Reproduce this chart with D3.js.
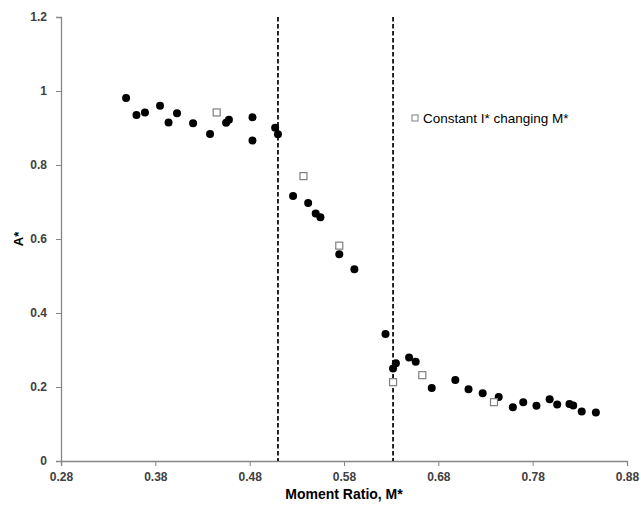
<!DOCTYPE html>
<html>
<head>
<meta charset="utf-8">
<script src="https://cdn.jsdelivr.net/npm/d3@7"></script>
<style>
  body { margin: 0; background: #fff; }
  text { font-family: "Liberation Sans", Arial, sans-serif; }
</style>
</head>
<body>
<div id="chart"></div>
<script>
// filled circles: measured points
var circleM = [0.349, 0.360, 0.369, 0.385, 0.394, 0.403, 0.420, 0.438, 0.455, 0.458, 0.483, 0.483, 0.507, 0.510,
               0.526, 0.542, 0.550, 0.555, 0.575, 0.591, 0.624, 0.635, 0.632, 0.649, 0.656, 0.673, 0.698, 0.712,
               0.727, 0.744, 0.759, 0.770, 0.784, 0.798, 0.806, 0.819, 0.823, 0.832, 0.847];
var circleA = [0.981, 0.935, 0.942, 0.960, 0.915, 0.940, 0.913, 0.884, 0.914, 0.922, 0.929, 0.866, 0.901, 0.883,
               0.716, 0.697, 0.669, 0.659, 0.559, 0.518, 0.343, 0.264, 0.250, 0.280, 0.268, 0.197, 0.219, 0.194,
               0.183, 0.173, 0.145, 0.159, 0.149, 0.167, 0.153, 0.154, 0.150, 0.134, 0.131];

// open squares: constant I* changing M*
var squareM = [0.445, 0.537, 0.575, 0.632, 0.663, 0.739];
var squareA = [0.942, 0.770, 0.582, 0.213, 0.232, 0.159];

var dividerM = [0.510, 0.632];

var xTicks = [0.28, 0.38, 0.48, 0.58, 0.68, 0.78, 0.88];
var yTicks = [0, 0.2, 0.4, 0.6, 0.8, 1, 1.2];

var width = 641, height = 508;
var margin = {left: 61, right: 14, top: 17, bottom: 47};

var svg = d3.select('#chart').append('svg')
    .attr('width', width)
    .attr('height', height);

var x = d3.scaleLinear().domain([0.28, 0.88]).range([margin.left, width - margin.right]);
var y = d3.scaleLinear().domain([0, 1.2]).range([height - margin.bottom, margin.top]);

// axes
var xAxis = svg.append('g')
    .attr('transform', 'translate(0,' + y(0) + ')')
    .call(d3.axisBottom(x).tickValues(xTicks).tickSize(5).tickPadding(6).tickFormat(d3.format('.2f')));
var yAxis = svg.append('g')
    .attr('transform', 'translate(' + x(0.28) + ',0)')
    .call(d3.axisLeft(y).tickValues(yTicks).tickSize(5).tickPadding(9).tickFormat(function (d) { return d3.format('')(+d.toFixed(1)); }));

[xAxis, yAxis].forEach(function (g) {
    g.select('.domain').attr('stroke', '#868686').attr('stroke-width', 1.3);
    g.selectAll('.tick line').attr('stroke', '#868686');
    g.selectAll('.tick text').attr('fill', '#404040').style('font-size', '12px').style('font-weight', 'bold');
});

// vertical dashed dividers
svg.selectAll('line.divider')
    .data(dividerM)
    .enter().append('line')
    .attr('class', 'divider')
    .attr('x1', function (d) { return x(d); })
    .attr('x2', function (d) { return x(d); })
    .attr('y1', y(1.2))
    .attr('y2', y(0))
    .attr('stroke', '#000')
    .attr('stroke-width', 1.7)
    .attr('stroke-dasharray', '4.5,2.5');

// circles
svg.selectAll('circle.pt')
    .data(d3.range(circleM.length))
    .enter().append('circle')
    .attr('class', 'pt')
    .attr('cx', function (i) { return x(circleM[i]); })
    .attr('cy', function (i) { return y(circleA[i]); })
    .attr('r', 4)
    .attr('fill', '#000');

// squares
var sq = 7;
svg.selectAll('rect.sq')
    .data(d3.range(squareM.length))
    .enter().append('rect')
    .attr('class', 'sq')
    .attr('x', function (i) { return x(squareM[i]) - sq / 2; })
    .attr('y', function (i) { return y(squareA[i]) - sq / 2; })
    .attr('width', sq)
    .attr('height', sq)
    .attr('fill', '#fff')
    .attr('stroke', '#7f7f7f')
    .attr('stroke-width', 1.2);

// legend
var leg = svg.append('g').attr('transform', 'translate(415,118)');
leg.append('rect')
    .attr('x', -3).attr('y', -3).attr('width', 6).attr('height', 6)
    .attr('fill', '#fff').attr('stroke', '#7f7f7f');
leg.append('text')
    .attr('x', 8).attr('y', 5)
    .style('font-size', '13.5px')
    .attr('fill', '#000')
    .text('Constant I* changing M*');

// axis titles
svg.append('text')
    .attr('x', x(0.58)).attr('y', 499)
    .attr('text-anchor', 'middle')
    .style('font-size', '14px').style('font-weight', 'bold')
    .text('Moment Ratio, M*');

svg.append('text')
    .attr('transform', 'translate(23,' + y(0.6) + ') rotate(-90)')
    .attr('text-anchor', 'middle')
    .style('font-size', '13px').style('font-weight', 'bold')
    .text('A*');
</script>
</body>
</html>
